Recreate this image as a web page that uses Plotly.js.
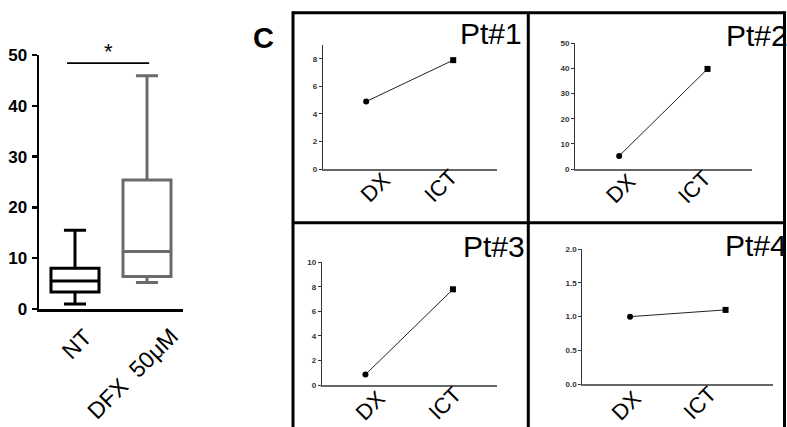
<!DOCTYPE html>
<html>
<head>
<meta charset="utf-8">
<script src="https://cdn.plot.ly/plotly-3.0.1.min.js"></script>
<style>html,body{margin:0;padding:0;background:#fff;}#chart{width:787px;height:427px;}</style>
</head>
<body>
<div id="chart"></div>
<script>
// ---- data ----
const groups = ['NT', 'DFX  50μM'];
const boxLowerFence = [1.0, 5.2];
const boxQ1 = [3.35, 6.4];
const boxMedian = [5.5, 11.3];
const boxQ3 = [8.0, 25.4];
const boxUpperFence = [15.5, 45.9];
const boxTicks = [0, 10, 20, 30, 40, 50];
const sigSpan = [-0.11, 1.03];
const sigLevel = [48.4];
const sigLabel = ['*'];

const timepoints = ['DX', 'ICT'];
const patients = ['Pt#1', 'Pt#2', 'Pt#3', 'Pt#4'];
const pt1 = [4.9, 7.9];
const pt2 = [5.2, 39.8];
const pt3 = [0.85, 7.8];
const pt4 = [1.0, 1.1];
const patientValues = [pt1, pt2, pt3, pt4];
const yMax = [9, 50, 10, 2];
const yStep = [2, 10, 2, 0.5];
const panelLetter = ['C'];

// ---- layout helpers (pixel -> paper) ----
const W = 787, H = 427;
const px = v => v / W;
const py = v => 1 - v / H;
const FONT = 'Liberation Sans, Arial, Helvetica, sans-serif';

const boxColors = ['#000000', '#6b6b6b'];
const traces = [];
groups.forEach((g, i) => {
  traces.push({
    type: 'box', x: [g], q1: [boxQ1[i]], median: [boxMedian[i]], q3: [boxQ3[i]],
    lowerfence: [boxLowerFence[i]], upperfence: [boxUpperFence[i]],
    width: 0.667, whiskerwidth: 0.46, boxpoints: false,
    line: {color: boxColors[i], width: 3}, fillcolor: 'rgba(255,255,255,0)',
    xaxis: 'x', yaxis: 'y', hoverinfo: 'skip'
  });
});

// panel geometry (pixels): [xLeft, xRight, yTop, yZero]
const panelBox = [
  [322.7, 496.7, 45, 169],
  [575, 751.7, 43.3, 169],
  [321.7, 496.7, 262.3, 385],
  [582.3, 773.3, 249, 384.3]
];

const layout = {
  width: W, height: H, margin: {l: 0, r: 0, t: 0, b: 0},
  paper_bgcolor: '#fff', plot_bgcolor: 'rgba(0,0,0,0)', showlegend: false,
  boxmode: 'overlay',
  xaxis: {domain: [px(39), px(183)], type: 'category', categoryarray: groups, range: [-0.5, 1.5],
    showline: true, linewidth: 3, linecolor: '#000', ticks: '', showticklabels: false,
    showgrid: false, zeroline: false, fixedrange: true},
  yaxis: {domain: [py(309), py(55)], range: [0, 50], tickmode: 'array', tickvals: boxTicks,
    ticktext: boxTicks.map(v => '<b>' + v + '</b>'), ticks: 'outside', ticklen: 5,
    tickwidth: 2.5, tickcolor: '#000', showline: true, linewidth: 2.5, linecolor: '#000',
    tickfont: {family: FONT, size: 17, weight: 700, color: '#000'}, ticklabelstandoff: 1,
    showgrid: false, zeroline: false, fixedrange: true},
  shapes: [], annotations: []
};

// significance bracket
layout.shapes.push({type: 'line', xref: 'x', yref: 'y', x0: sigSpan[0], x1: sigSpan[1], y0: sigLevel[0], y1: sigLevel[0],
  line: {color: '#000', width: 1.6}});
layout.annotations.push({xref: 'x', yref: 'y', x: (sigSpan[0] + sigSpan[1]) / 2, y: sigLevel[0], yanchor: 'bottom',
  yshift: -3, text: sigLabel[0], showarrow: false, font: {family: FONT, size: 22, color: '#000'}});

// box x labels (rotated)
const boxLabelPos = [[76.5, 343.5], [132, 373.5]];
groups.forEach((g, i) => {
  layout.annotations.push({xref: 'paper', yref: 'paper', x: px(boxLabelPos[i][0]), y: py(boxLabelPos[i][1]),
    xanchor: 'center', yanchor: 'middle', text: g, textangle: -45, showarrow: false,
    font: {family: FONT, size: 23, color: '#000'}});
});

// panel letter
layout.annotations.push({xref: 'paper', yref: 'paper', x: px(251), y: py(38), xanchor: 'left', yanchor: 'middle',
  text: '<b>' + panelLetter[0] + '</b>', showarrow: false, font: {family: FONT, size: 29, color: '#000'}});

// patient panels
const titlePos = [[458, 34], [724, 36], [460.5, 246], [723, 245.5]];
const labelPos = [
  [[375, 187.5], [441, 185.5]],
  [[620.5, 188], [694, 187.5]],
  [[370.5, 405.5], [444.5, 403]],
  [[626.5, 405.5], [699, 403]]
];
patientValues.forEach((vals, k) => {
  const n = k + 2;
  const b = panelBox[k];
  traces.push({
    type: 'scatter', mode: 'lines+markers', x: timepoints, y: vals,
    xaxis: 'x' + n, yaxis: 'y' + n,
    line: {color: '#222', width: 1},
    marker: {color: '#000', size: 6, symbol: ['circle', 'square']},
    hoverinfo: 'skip', cliponaxis: false
  });
  layout['xaxis' + n] = {domain: [px(b[0]), px(b[1])], anchor: 'y' + n, type: 'category', categoryarray: timepoints,
    range: [-0.5, 1.5], showline: true, linewidth: 1.5, linecolor: '#666', ticks: '', showticklabels: false,
    showgrid: false, zeroline: false, fixedrange: true};
  layout['yaxis' + n] = {domain: [py(b[3]), py(b[2])], anchor: 'x' + n, range: [0, yMax[k]], dtick: yStep[k], tick0: 0,
    tickformat: yStep[k] < 1 ? '.1f' : 'd',
    ticks: 'outside', ticklen: 3, tickwidth: 1, tickcolor: '#333', showline: true, linewidth: 1, linecolor: '#333',
    tickfont: {family: FONT, size: 8, weight: 'bold', color: '#333'}, ticklabelstandoff: 0,
    showgrid: false, zeroline: false, fixedrange: true};
  layout.annotations.push({xref: 'paper', yref: 'paper', x: px(titlePos[k][0]), y: py(titlePos[k][1]),
    xanchor: 'left', yanchor: 'middle', text: patients[k], showarrow: false,
    font: {family: FONT, size: 30, color: '#000'}});
  timepoints.forEach((t, j) => {
    layout.annotations.push({xref: 'paper', yref: 'paper', x: px(labelPos[k][j][0]), y: py(labelPos[k][j][1]),
      xanchor: 'center', yanchor: 'middle', text: t, textangle: -45, showarrow: false,
      font: {family: FONT, size: 22, color: '#000'}});
  });
});

// panel grid borders
const border = {color: '#000', width: 3};
const gl = (x0, y0, x1, y1) => ({type: 'line', xref: 'paper', yref: 'paper', x0: px(x0), y0: py(y0), x1: px(x1), y1: py(y1), line: border});
layout.shapes.push(gl(293, 12.7, 784.5, 12.7));
layout.shapes.push(gl(293, 11.2, 293, 440));
layout.shapes.push(gl(784.5, 11.2, 784.5, 440));
layout.shapes.push(gl(528.3, 12.7, 528.3, 440));
layout.shapes.push(gl(293, 222.7, 784.5, 222.7));

Plotly.newPlot('chart', traces, layout, {staticPlot: true, displayModeBar: false});
</script>
</body>
</html>
